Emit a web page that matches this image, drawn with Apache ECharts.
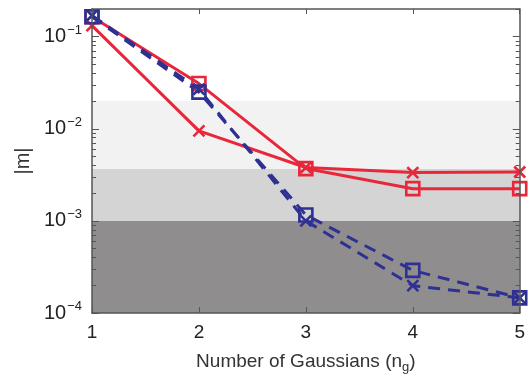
<!DOCTYPE html>
<html><head><meta charset="utf-8">
<script src="https://cdn.jsdelivr.net/npm/echarts@6/dist/echarts.min.js"></script>
<style>html,body{margin:0;padding:0;background:#fff}#c{width:528px;height:384px}</style>
</head><body><div id="c"></div>
<script>
const xValues = [1, 2, 3, 4, 5];
const redSquares = [0.165, 0.031, 0.0037, 0.00224, 0.00224];
const redCrosses = [0.132, 0.0095, 0.0038, 0.00335, 0.0034];
const blueSquares = [0.165, 0.025, 0.00116, 0.00029, 0.000146];
const blueCrosses = [0.17, 0.027, 0.001, 0.000198, 0.000146];
const bands = [[0.0001, 0.001, '#8f8d8e'], [0.001, 0.00367, '#d4d4d4'], [0.00367, 0.02, '#f2f2f2']];
const majorTicks = [0.0001, 0.001, 0.01, 0.1];
const minorTicks = [0.0002,0.0003,0.0004,0.0005,0.0006,0.0007,0.0008,0.0009,
  0.002,0.003,0.004,0.005,0.006,0.007,0.008,0.009,
  0.02,0.03,0.04,0.05,0.06,0.07,0.08,0.09,0.2];
const expLabels = {0.0001: '−4', 0.001: '−3', 0.01: '−2', 0.1: '−1'};
const F = 'Liberation Sans, Arial, sans-serif';

const chart = echarts.init(document.getElementById('c'));
const crossPath = 'path://M0,0L10,10M10,0L0,10';
function pairs(ys) { return xValues.map((x, i) => [x, ys[i]]); }
function mk(ys, color, dashed, sym) {
  const isCross = sym === 'cross';
  return {
    type: 'line', data: pairs(ys), z: 5,
    symbol: isCross ? crossPath : 'rect',
    symbolSize: isCross ? 11 : 13,
    lineStyle: {color: color, width: 3, type: dashed ? [12, 8] : 'solid'},
    itemStyle: {color: 'rgba(0,0,0,0)', borderColor: color, borderWidth: 2.6},
    emphasis: {disabled: true}, animation: false
  };
}
const yBase = {type: 'log', logBase: 10, min: 0.0001, max: 0.2, gridIndex: 0, z: 10, splitLine: {show: false}};
chart.setOption({
  animation: false,
  grid: {left: 92, right: 8, top: 9, bottom: 71},
  xAxis: [
    {type: 'value', min: 1, max: 5, interval: 1, position: 'bottom', z: 10,
     axisLine: {lineStyle: {color: '#555', width: 1.5}},
     axisTick: {inside: true, length: 6, lineStyle: {color: '#555'}},
     axisLabel: {fontSize: 19, color: '#222', fontFamily: F, margin: 10},
     splitLine: {show: false},
     name: '{a|Number of Gaussians (n}{s|g}{a|)}', nameLocation: 'middle', nameGap: 37,
     nameTextStyle: {rich: {a: {fontSize: 19, color: '#333', fontFamily: F}, s: {fontSize: 13, color: '#333', fontFamily: F, padding: [11, 0, 0, 0]}}}},
    {type: 'value', min: 1, max: 5, interval: 1, position: 'top', z: 10,
     axisLine: {lineStyle: {color: '#555', width: 1.5}},
     axisTick: {inside: true, length: 5, lineStyle: {color: '#555'}},
     axisLabel: {show: false}, splitLine: {show: false}}
  ],
  yAxis: [
    Object.assign({}, yBase, {position: 'left',
     axisLine: {show: true, lineStyle: {color: '#555', width: 1.5}},
     axisTick: {show: true, inside: true, length: 7, customValues: majorTicks, lineStyle: {color: '#555'}},
     axisLabel: {customValues: majorTicks, margin: 10, fontFamily: F,
       formatter: v => { const k = Object.keys(expLabels).find(t => Math.abs(Math.log10(+t) - Math.log10(v)) < 0.01); return '{b|10}{s|' + expLabels[k] + '}'; },
       rich: {b: {fontSize: 20, color: '#222', fontFamily: F}, s: {fontSize: 13, color: '#222', fontFamily: F, padding: [0, 0, 13, 1]}}},
     name: '|m|', nameLocation: 'middle', nameGap: 53,
     nameTextStyle: {fontSize: 20, color: '#333', fontFamily: F}}),
    Object.assign({}, yBase, {position: 'left',
     axisLine: {show: false},
     axisTick: {show: true, inside: true, length: 4, customValues: minorTicks, lineStyle: {color: '#555'}},
     axisLabel: {show: false}}),
    Object.assign({}, yBase, {position: 'right',
     axisLine: {show: true, lineStyle: {color: '#555', width: 1.5}},
     axisTick: {show: true, inside: true, length: 7, customValues: majorTicks, lineStyle: {color: '#555'}},
     axisLabel: {show: false}}),
    Object.assign({}, yBase, {position: 'right',
     axisLine: {show: false},
     axisTick: {show: true, inside: true, length: 4, customValues: minorTicks, lineStyle: {color: '#555'}},
     axisLabel: {show: false}})
  ],
  series: [
    {type: 'line', data: [], z: 1, silent: true,
     markArea: {silent: true, data: bands.map(b => [{yAxis: b[0], itemStyle: {color: b[2]}}, {yAxis: b[1]}])}},
    mk(redSquares, '#e8283a', false, 'rect'),
    mk(redCrosses, '#e8283a', false, 'cross'),
    mk(blueSquares, '#2e3192', true, 'rect'),
    mk(blueCrosses, '#2e3192', true, 'cross')
  ]
});
</script></body></html>
